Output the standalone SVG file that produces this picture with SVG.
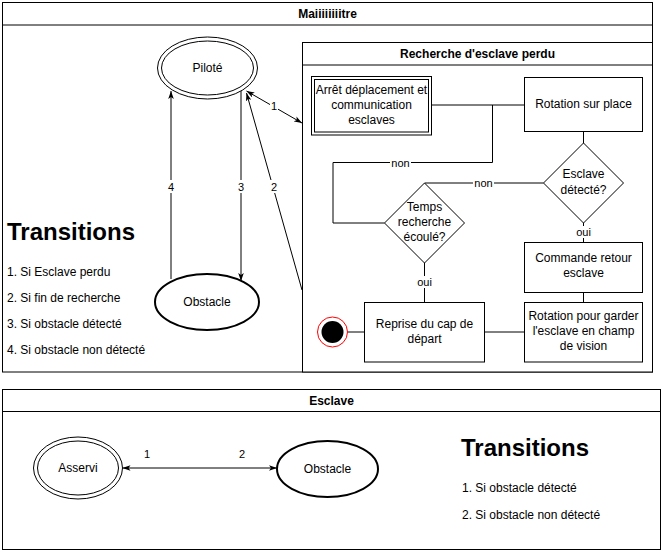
<svg xmlns="http://www.w3.org/2000/svg" width="664" height="554" viewBox="0 0 664 554">
<style>
.box{fill:#fff;stroke:#000;stroke-width:1}
.ln{fill:none;stroke:#000;stroke-width:1}
.t{font-family:"Liberation Sans",Arial,Helvetica,sans-serif;font-size:12px;fill:#000;text-anchor:middle}
.b{font-weight:bold}
.lb{font-family:"Liberation Sans",Arial,Helvetica,sans-serif;font-size:11px;fill:#000;text-anchor:middle}
.big{font-family:"Liberation Sans",Arial,Helvetica,sans-serif;font-size:24px;font-weight:bold;fill:#000}
.li{font-family:"Liberation Sans",Arial,Helvetica,sans-serif;font-size:12px;fill:#000}
.bg{fill:#fff;stroke:none}
</style>
<defs>
<marker id="arr" viewBox="0 0 10 7" refX="10" refY="3.5" markerWidth="8" markerHeight="6" markerUnits="userSpaceOnUse" orient="auto-start-reverse">
<path d="M0,0 L10,3.5 L0,7 L2.5,3.5 z" fill="#000"/>
</marker>
</defs>
<rect width="664" height="554" fill="#fff"/>

<g id="maitre">
<rect class="box" x="2.5" y="2.5" width="650" height="369.5"/>
<line class="ln" x1="2.5" y1="25" x2="652.5" y2="25"/>
<text class="t b" x="327.5" y="18">Maiiiiiiiitre</text>
</g>

<g id="recherche">
<rect class="box" x="302.5" y="42.5" width="350" height="329.5"/>
<line class="ln" x1="302.5" y1="65" x2="652.5" y2="65"/>
<text class="t b" x="477.5" y="58">Recherche d'esclave perdu</text>
</g>

<g id="esclave">
<rect class="box" x="2.5" y="389.5" width="658" height="160"/>
<line class="ln" x1="2.5" y1="411.5" x2="660.5" y2="411.5"/>
<text class="t b" x="331.5" y="404.5">Esclave</text>
</g>

<g id="transitions-maitre">
<text class="big" x="7" y="240">Transitions</text>
<text class="li" x="7" y="276">1. Si Esclave perdu</text>
<text class="li" x="7" y="302">2. Si fin de recherche</text>
<text class="li" x="7" y="328">3. Si obstacle détecté</text>
<text class="li" x="7" y="354">4. Si obstacle non détecté</text>
</g>

<g id="connectors">
<!-- maitre state arrows -->
<line class="ln" x1="171" y1="279" x2="171" y2="91" marker-end="url(#arr)"/>
<line class="ln" x1="241" y1="91" x2="241" y2="281" marker-end="url(#arr)"/>
<line class="ln" x1="302" y1="290" x2="246.5" y2="93" marker-end="url(#arr)"/>
<line class="ln" x1="246.5" y1="91" x2="302" y2="123" marker-start="url(#arr)" marker-end="url(#arr)"/>
<!-- flow inside recherche -->
<line class="ln" x1="432" y1="105" x2="524" y2="105"/>
<polyline class="ln" points="492.5,105 492.5,162.5 333,162.5 333,223 384.5,223"/>
<line class="ln" x1="583.5" y1="132" x2="583.5" y2="143"/>
<line class="ln" x1="543.5" y1="183" x2="424.5" y2="183"/>
<line class="ln" x1="583.5" y1="223" x2="583.5" y2="242"/>
<line class="ln" x1="424.5" y1="263" x2="424.5" y2="302"/>
<line class="ln" x1="583.5" y1="292" x2="583.5" y2="302"/>
<line class="ln" x1="524" y1="332" x2="484.5" y2="332"/>
<line class="ln" x1="364.5" y1="332" x2="347.5" y2="332"/>
<!-- esclave -->
<line class="ln" x1="122.5" y1="468" x2="277" y2="468" marker-start="url(#arr)" marker-end="url(#arr)"/>
<!-- labels -->
<rect class="bg" x="167" y="180" width="8" height="13"/>
<text class="lb" x="171" y="191">4</text>
<rect class="bg" x="237" y="180" width="8" height="13"/>
<text class="lb" x="241" y="191">3</text>
<rect class="bg" x="270" y="180" width="8" height="13"/>
<text class="lb" x="274" y="191">2</text>
<rect class="bg" x="270" y="99" width="8" height="13"/>
<text class="lb" x="274" y="110">1</text>
<rect class="bg" x="390" y="156" width="21" height="13"/>
<text class="lb" x="400.5" y="166.5">non</text>
<rect class="bg" x="473" y="176" width="21" height="13"/>
<text class="lb" x="483.5" y="187">non</text>
<rect class="bg" x="575" y="226" width="17" height="12"/>
<text class="lb" x="583.5" y="236">oui</text>
<rect class="bg" x="416" y="276" width="17" height="12"/>
<text class="lb" x="424.5" y="286">oui</text>
<text class="lb" x="147" y="458">1</text>
<text class="lb" x="242" y="458">2</text>
</g>

<g id="pilote">
<ellipse class="box" cx="207.5" cy="68" rx="50" ry="31"/>
<ellipse class="ln" cx="207.5" cy="68" rx="46" ry="27"/>
<text class="t" x="207.5" y="72">Piloté</text>
</g>

<g id="obstacle-maitre">
<ellipse class="box" cx="207" cy="302" rx="52" ry="28" style="stroke-width:2"/>
<text class="t" x="207" y="306">Obstacle</text>
</g>

<g id="arret">
<rect class="box" x="311.5" y="76.5" width="120" height="58.5"/>
<rect class="ln" x="314.5" y="79.5" width="114" height="52.5"/>
<text class="t" x="371.5" y="93.5">Arrêt déplacement et</text>
<text class="t" x="371.5" y="108.5">communication</text>
<text class="t" x="371.5" y="123.5">esclaves</text>
</g>

<g id="rotation">
<rect class="box" x="524.5" y="77.5" width="118" height="54"/>
<text class="t" x="583.5" y="108">Rotation sur place</text>
</g>

<g id="esclave-detecte">
<polygon class="box" points="583.5,143 623.5,183 583.5,223 543.5,183"/>
<text class="t" x="583.5" y="178">Esclave</text>
<text class="t" x="583.5" y="194">détecté?</text>
</g>

<g id="temps">
<polygon class="box" points="424.5,183 464.5,223 424.5,263 384.5,223"/>
<text class="t" x="424.5" y="211">Temps</text>
<text class="t" x="424.5" y="226">recherche</text>
<text class="t" x="424.5" y="241">écoulé?</text>
</g>

<g id="commande">
<rect class="box" x="524.5" y="242.5" width="118" height="50"/>
<text class="t" x="583.5" y="262">Commande retour</text>
<text class="t" x="583.5" y="277">esclave</text>
</g>

<g id="rotation-garder">
<rect class="box" x="524.5" y="302.5" width="118" height="59.5"/>
<text class="t" x="583.5" y="319.5">Rotation pour garder</text>
<text class="t" x="583.5" y="334.5">l'esclave en champ</text>
<text class="t" x="583.5" y="350">de vision</text>
</g>

<g id="reprise">
<rect class="box" x="364.5" y="302.5" width="120" height="59.5"/>
<text class="t" x="424.5" y="327.5">Reprise du cap de</text>
<text class="t" x="424.5" y="342.5">départ</text>
</g>

<g id="fin">
<circle cx="332.5" cy="332" r="15" fill="#fff" stroke="#ff0000" stroke-width="1"/>
<circle cx="332.5" cy="332" r="11" fill="#000"/>
</g>

<g id="asservi">
<ellipse class="box" cx="78" cy="468" rx="44.5" ry="31"/>
<ellipse class="ln" cx="78" cy="468" rx="40.5" ry="27"/>
<text class="t" x="78" y="472">Asservi</text>
</g>

<g id="obstacle-esclave">
<ellipse class="box" cx="327.5" cy="469" rx="50.5" ry="28" style="stroke-width:2"/>
<text class="t" x="327.5" y="473">Obstacle</text>
</g>

<g id="transitions-esclave">
<text class="big" x="461" y="456">Transitions</text>
<text class="li" x="462" y="491.5">1. Si obstacle détecté</text>
<text class="li" x="462" y="518.5">2. Si obstacle non détecté</text>
</g>
</svg>
